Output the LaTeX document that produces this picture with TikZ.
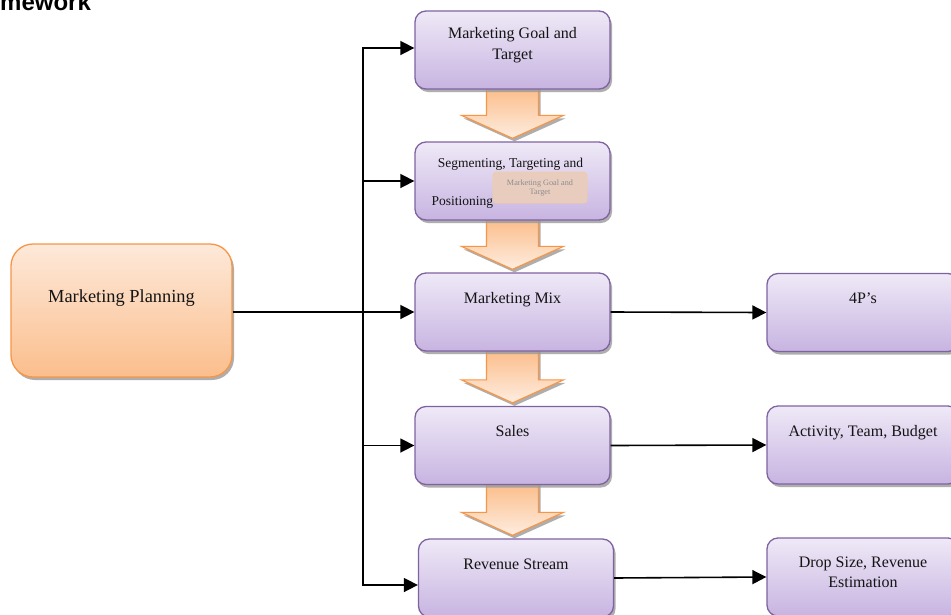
\documentclass[tikz,border=0pt]{standalone}
\usepackage{fontspec}
\setmainfont{Liberation Serif}
\newfontfamily\titlefont{Liberation Sans}
\usetikzlibrary{arrows.meta,shadows,calc,backgrounds}
\definecolor{pborder}{HTML}{7F63A1}
\definecolor{ptop}{HTML}{EFE9F7}
\definecolor{pbot}{HTML}{C7B4E1}
\definecolor{oborder}{HTML}{F79646}
\definecolor{otop}{HTML}{FDE9DA}
\definecolor{obot}{HTML}{FBBE8C}
\definecolor{atop}{HTML}{FBBC88}
\definecolor{abot}{HTML}{FEEDE0}
\definecolor{shadecol}{HTML}{9A9A9A}
\definecolor{ovfill}{HTML}{E8CDBF}
\definecolor{ovdraw}{HTML}{F4CBA2}
\newcommand\blockarr[2]{%
  \path[barrow] let \p1=(#1.south), \p2=(#2.north) in
    (\x1-26pt,\y1+3pt) -- (\x1+26pt,\y1+3pt) -- (\x1+26pt,\y2+26pt) -- (\x1+51pt,\y2+26pt)
    -- (\x1,\y2+3pt) -- (\x1-51pt,\y2+26pt) -- (\x1-26pt,\y2+26pt) -- cycle;}
\begin{document}
\begin{tikzpicture}[x=1pt,y=-1pt,
  pbox/.style={draw=pborder, line width=1.3pt, rounded corners=11pt, top color=ptop, bottom color=pbot,
    minimum width=195pt, minimum height=78pt, inner sep=0pt,
    drop shadow={shadow xshift=2pt, shadow yshift=-3pt, fill=shadecol, opacity=0.8}},
  obox/.style={draw=oborder, line width=1.3pt, rounded corners=22pt, top color=otop, bottom color=obot,
    minimum width=221pt, minimum height=133pt, inner sep=0pt,
    drop shadow={shadow xshift=2pt, shadow yshift=-3pt, fill=shadecol, opacity=0.8}},
  barrow/.style={draw=oborder, line width=1.2pt, line join=miter, top color=atop, bottom color=abot,
    drop shadow={shadow xshift=2pt, shadow yshift=-3pt, fill=shadecol, opacity=0.8}},
  lbl/.style={font=\fontsize{16}{19}\selectfont, anchor=base, inner sep=0pt, text=black!92},
  conn/.style={line width=1.6pt, -{Triangle[length=14pt,width=14pt]}},
]
\useasboundingbox (0,0) rectangle (951,614);

% title (clipped at the top edge)
\node[font=\titlefont\bfseries\fontsize{24}{28}\selectfont, anchor=base west, inner sep=0pt] (title) at (0,10) {mework};

% boxes
\node[obox] (mp) at (121.5,310.5) {};
\node[pbox] (goal) at (512.5,50) {};
\node[pbox] (seg) at (512.5,181) {};
\node[pbox] (mix) at (512.5,312) {};
\node[pbox] (sales) at (512.5,445.5) {};
\node[pbox] (rev) at (516,578) {};
\node[pbox, minimum width=192pt] (p4) at (863,312.5) {};
\node[pbox, minimum width=192pt] (act) at (863,445) {};
\node[pbox, minimum width=192pt] (drop) at (863,577) {};

% block arrows behind the boxes
\begin{scope}[on background layer]
  \fill[white] (0,0) rectangle (951,614);
  \blockarr{goal}{seg}
  \blockarr{seg}{mix}
  \blockarr{mix}{sales}
  \blockarr{sales}{rev}
\end{scope}

% labels
\node[lbl, font=\fontsize{18.4}{22}\selectfont] (mpt) at ($(mp.north)+(0,59)$) {Marketing Planning};
\node[lbl] (goalt1) at ($(goal.north)+(0,28)$) {Marketing Goal and};
\node[lbl] (goalt2) at ($(goal.north)+(0,49)$) {Target};
\node[lbl, font=\fontsize{13.5}{16}\selectfont] (segt1) at ($(seg.north)+(-2,26)$) {Segmenting, Targeting and};
\node[lbl, font=\fontsize{13.5}{16}\selectfont, anchor=base west] (segt2) at ($(seg.north west)+(17,64)$) {Positioning};
\node[draw=ovdraw, fill=ovfill, line width=0.6pt, rounded corners=3pt, minimum width=94pt, minimum height=31pt, inner sep=0pt] (ov) at (540,187.5) {};
\node[lbl, font=\fontsize{8.2}{10}\selectfont, text=black!45] (ovt1) at ($(ov.north)+(0,13.5)$) {Marketing Goal and};
\node[lbl, font=\fontsize{8.2}{10}\selectfont, text=black!45] (ovt2) at ($(ov.north)+(0,23)$) {Target};
\node[lbl] (mixt) at ($(mix.north)+(0,31)$) {Marketing Mix};
\node[lbl] (salest) at ($(sales.north)+(0,31)$) {Sales};
\node[lbl] (revt) at ($(rev.north)+(0,31)$) {Revenue Stream};
\node[lbl] (p4t) at ($(p4.north)+(0,31)$) {4P’s};
\node[lbl] (actt) at ($(act.north)+(0,31)$) {Activity, Team, Budget};
\node[lbl] (dropt1) at ($(drop.north)+(0,30)$) {Drop Size, Revenue};
\node[lbl] (dropt2) at ($(drop.north)+(0,50)$) {Estimation};

% connectors
\coordinate (bt) at (363,48);
\coordinate (bb) at (363,585);
\draw[conn] (bb) -- (bt) -- (bt -| goal.west);
\draw[conn] (bt) -- (bb) -- (bb -| rev.west);
\draw[conn] (seg.west -| bt) -- (seg.west);
\draw[conn] (mp.east |- mix.west) -- (mix.west);
\draw[conn] (sales.west -| bt) -- (sales.west);
\draw[conn] (mix.east) -- (p4.west);
\draw[conn] (sales.east) -- (act.west);
\draw[conn] (rev.east) -- (drop.west);
\end{tikzpicture}
\end{document}
